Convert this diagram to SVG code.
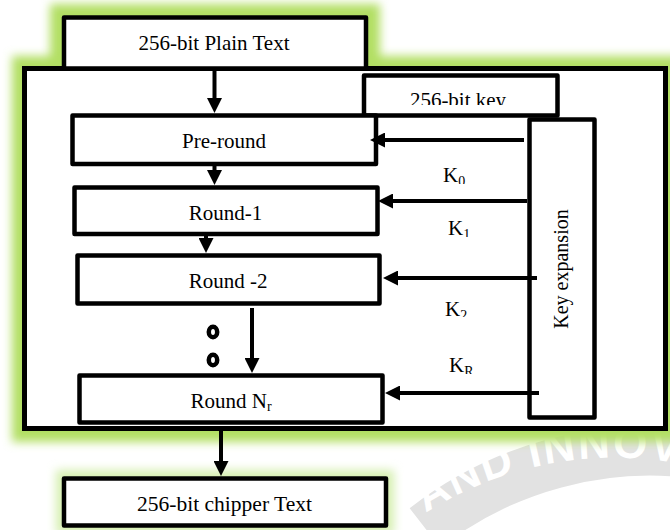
<svg xmlns="http://www.w3.org/2000/svg" width="670" height="530" viewBox="0 0 670 530">
<style>
.box{fill:#fff;stroke:#000;stroke-width:4.5;stroke-linejoin:round}
.lbl{font-family:"Liberation Serif","Times New Roman",serif;font-size:21px;fill:#000;text-anchor:middle}
.k{font-family:"Liberation Serif","Times New Roman",serif;font-size:21px;fill:#000}
.sub{font-size:14px}
.conn{stroke:#000;stroke-width:4;fill:none;marker-end:url(#ah)}
.dot{fill:none;stroke:#000;stroke-width:4.5}
</style>
<defs>
<marker id="ah" viewBox="0 0 15 15" refX="2" refY="7.5" markerWidth="15" markerHeight="15" markerUnits="userSpaceOnUse" orient="auto">
<polygon points="0,0 15,7.5 0,15" fill="#000"/>
</marker>
<filter id="blur" x="-20%" y="-20%" width="140%" height="140%">
<feGaussianBlur stdDeviation="5"/>
</filter>
<clipPath id="ckey"><rect x="366" y="78" width="189" height="27"/></clipPath>
<clipPath id="ck0"><rect x="430" y="160" width="60" height="24"/></clipPath>
<clipPath id="ck1"><rect x="430" y="215" width="60" height="22"/></clipPath>
<clipPath id="ck2"><rect x="430" y="295" width="60" height="22"/></clipPath>
<clipPath id="ckr"><rect x="430" y="350" width="60" height="24"/></clipPath>
<path id="wmtext" d="M 380 548 A 352 352 0 0 1 700 468"/>
</defs>

<g id="watermark">
<path d="M 425 528 A 367 367 0 0 1 700 454" fill="none" stroke="#e2e2e2" stroke-width="50"/>
<text font-family="Liberation Sans, Arial, sans-serif" font-weight="bold" font-size="44" fill="#fff" letter-spacing="2"><textPath href="#wmtext" startOffset="16">T AND INNOV</textPath></text>
</g>

<g id="glow" filter="url(#blur)">
<path d="M 12 56 H 50 V 4 H 380 V 56 H 680 V 442 H 12 Z" fill="#b2df63"/>
<rect x="56" y="470" width="338" height="64" fill="#d6efb0"/>
</g>

<g id="frame">
<rect x="24.5" y="68.5" width="641" height="360" fill="#fff" stroke="#000" stroke-width="5"/>
</g>

<g id="plain">
<rect class="box" x="64" y="17.5" width="302" height="51"/>
<text class="lbl" x="214" y="50">256-bit Plain Text</text>
</g>

<g id="key">
<rect class="box" x="364" y="75.5" width="193.5" height="40"/>
<text class="lbl" x="458" y="107" clip-path="url(#ckey)">256-bit key</text>
</g>

<g id="preround">
<rect class="box" x="72.5" y="115.5" width="303.5" height="48.5"/>
<text class="lbl" x="224" y="148">Pre-round</text>
</g>

<g id="round1">
<rect class="box" x="74.5" y="187.5" width="303" height="46.5"/>
<text class="lbl" x="225.5" y="220">Round-1</text>
</g>

<g id="round2">
<rect class="box" x="77.5" y="255.5" width="302" height="48"/>
<text class="lbl" x="228" y="288">Round -2</text>
</g>

<g id="roundnr">
<rect class="box" x="79.5" y="375.5" width="303" height="47"/>
<text class="lbl" x="231" y="408">Round N<tspan class="sub" dy="3">r</tspan></text>
</g>

<g id="keyexp">
<rect class="box" x="529.5" y="119.5" width="65" height="298"/>
<text class="lbl" transform="translate(568 269) rotate(-90)" x="0" y="0" style="font-size:20px">Key expansion</text>
</g>

<g id="chipper">
<rect class="box" x="64" y="478.5" width="322" height="47"/>
<text class="lbl" x="224.5" y="511" style="font-size:22px" textLength="175" lengthAdjust="spacingAndGlyphs">256-bit chipper Text</text>
</g>

<g id="dots">
<ellipse class="dot" cx="213" cy="332" rx="4.2" ry="5.2"/>
<ellipse class="dot" cx="213" cy="360" rx="4.2" ry="5.2"/>
</g>

<g id="klabels">
<text class="k" x="443" y="182" clip-path="url(#ck0)">K<tspan class="sub" dy="4">0</tspan></text>
<text class="k" x="448" y="235" clip-path="url(#ck1)">K<tspan class="sub" dy="4">1</tspan></text>
<text class="k" x="445" y="316" clip-path="url(#ck2)">K<tspan class="sub" dy="4">2</tspan></text>
<text class="k" x="449" y="372" clip-path="url(#ckr)">K<tspan class="sub" dy="4">R</tspan></text>
</g>

<g id="connectors">
<line class="conn" x1="214.5" y1="71" x2="214.5" y2="100"/>
<line class="conn" x1="214.5" y1="166" x2="214.5" y2="172"/>
<line class="conn" x1="206" y1="236" x2="206" y2="240"/>
<line class="conn" x1="252" y1="308" x2="252" y2="360"/>
<line class="conn" x1="221" y1="431" x2="221" y2="463"/>
<line class="conn" x1="524" y1="140" x2="383" y2="140"/>
<line class="conn" x1="527" y1="201" x2="391" y2="201"/>
<line class="conn" x1="537" y1="278" x2="396" y2="278"/>
<line class="conn" x1="539" y1="393" x2="398" y2="393"/>
</g>
</svg>
